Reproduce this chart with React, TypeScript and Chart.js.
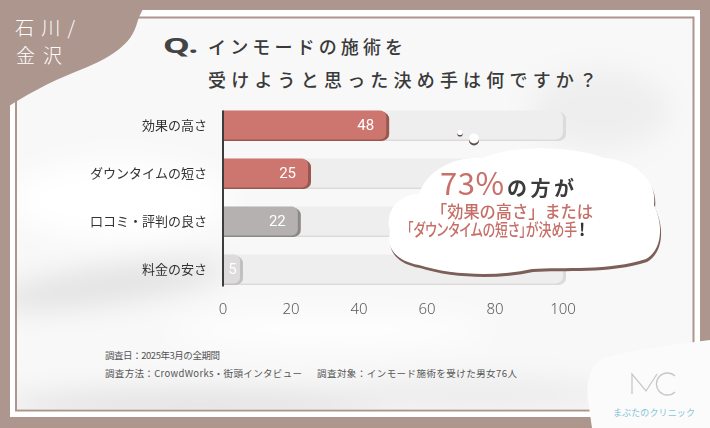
import React, { useEffect, useRef } from "react";
import { Chart, registerables } from "chart.js";

Chart.register(...registerables);

// ---- data ----
const categories = ["効果の高さ", "ダウンタイムの短さ", "口コミ・評判の良さ", "料金の安さ"];
const values = [48, 25, 22, 5];
const trackValues = [100, 100, 100, 100];
const xMin = 0;
const xMax = 100;
const xStep = 20;

const titleQ = "Q.";
const titleLine1 = "インモードの施術を";
const titleLine2 = "受けようと思った決め手は何ですか？";
const regionLine1 = "石川/";
const regionLine2 = "金沢";
const calloutPercent = "73%";
const calloutPercentTail = "の方が";
const calloutLine2 = "「効果の高さ」または";
const calloutLine3 = "「ダウンタイムの短さ」が決め手";
const calloutBang = "!";
const noteDate = "調査日：2025年3月の全期間";
const noteMethod = "調査方法：CrowdWorks・街頭インタビュー";
const noteTarget = "調査対象：インモード施術を受けた男女76人";
const logoText = "まぶたのクリニック";

// ---- styles ----
const JP = '"Noto Sans CJK JP", "Noto Sans", sans-serif';
const BROWN = "#ad968e";
const barColors = ["#cd7670", "#cd7670", "#b5b1b0", "#dddbdb"];
const barShadowColors = ["#98584f", "#98584f", "#8d8887", "#c3c0c0"];
const trackColor = "#efeeee";
const trackShadowColor = "#dcdada";

const decorPlugin = {
  id: "decor",
  beforeDatasetDraw(chart: any, args: any) {
    const ctx = chart.ctx;
    const meta = chart.getDatasetMeta(args.index);
    ctx.save();
    meta.data.forEach((el: any, i: number) => {
      const left = Math.min(el.base, el.x);
      const w = Math.abs(el.x - el.base);
      ctx.fillStyle = args.index === 1 ? trackShadowColor : barShadowColors[i];
      ctx.beginPath();
      ctx.roundRect(left, el.y - el.height / 2 + 1.5, w + 3, el.height, [0, 7, 7, 0]);
      ctx.fill();
    });
    ctx.restore();
  },
  afterDatasetsDraw(chart: any) {
    const ctx = chart.ctx;
    const meta = chart.getDatasetMeta(0);
    const x0 = chart.scales.x.getPixelForValue(xMin);
    const first = meta.data[0];
    const last = meta.data[meta.data.length - 1];
    ctx.save();
    ctx.strokeStyle = "#3d3d3d";
    ctx.lineWidth = 2;
    ctx.beginPath();
    ctx.moveTo(x0, first.y - first.height / 2);
    ctx.lineTo(x0, last.y + last.height / 2 + 3);
    ctx.stroke();
    ctx.fillStyle = "#ffffff";
    ctx.font = '15px Roboto, "Noto Sans", sans-serif';
    ctx.textBaseline = "middle";
    meta.data.forEach((el: any, i: number) => {
      const w = el.x - el.base;
      if (w < 30) {
        ctx.textAlign = "center";
        ctx.fillText(String(values[i]), el.base + w / 2 + 1, el.y + 1);
      } else {
        ctx.textAlign = "right";
        ctx.fillText(String(values[i]), el.x - 12, el.y + 1);
      }
    });
    ctx.restore();
  },
};

function BarChart() {
  const ref = useRef<HTMLCanvasElement | null>(null);
  useEffect(() => {
    if (!ref.current) return;
    const chart = new Chart(ref.current, {
      type: "bar",
      data: {
        labels: categories,
        datasets: [
          {
            data: values,
            backgroundColor: barColors,
            borderRadius: 6,
            borderSkipped: "start",
            grouped: false,
            categoryPercentage: 1,
            barPercentage: 0.6,
          },
          {
            data: trackValues,
            backgroundColor: trackColor,
            borderRadius: 7,
            borderSkipped: "start",
            grouped: false,
            categoryPercentage: 1,
            barPercentage: 0.6,
          },
        ],
      },
      options: {
        indexAxis: "y",
        responsive: false,
        animation: false,
        devicePixelRatio: window.devicePixelRatio || 1,
        layout: { padding: { top: 101, bottom: 101, left: 0, right: 147 } },
        plugins: { legend: { display: false }, tooltip: { enabled: false } },
        scales: {
          x: {
            min: xMin,
            max: xMax,
            ticks: {
              stepSize: xStep,
              padding: 8,
              color: "#5a5a5a",
              font: { size: 15, family: '"Noto Sans", Roboto, sans-serif', weight: "300" },
            },
            grid: { display: false, drawTicks: false },
            border: { display: false },
          },
          y: {
            grid: { display: false, drawTicks: false },
            border: { display: false },
            ticks: { padding: 16, color: "#333333", font: { size: 13, family: JP } },
            afterFit: (s: any) => {
              s.width = 223;
            },
          },
        },
      } as any,
      plugins: [decorPlugin],
    });
    return () => chart.destroy();
  }, []);
  return (
    <canvas
      ref={ref}
      width={710}
      height={428}
      style={{ position: "absolute", left: 0, top: 0, width: 710, height: 428 }}
    />
  );
}

const cloudPath =
  "M 390 232 C 384 212, 398 194, 419 194 C 427 170, 455 156, 483 158 C 513 144, 574 146, 604 158 C 634 160, 658 180, 654 205 C 664 226, 662 250, 646 259 C 610 271, 562 267, 532 269 C 496 277, 450 275, 419 265 C 396 261, 386 248, 390 232 Z";

export default function App() {
  return (
    <div
      style={{
        position: "fixed",
        left: 0,
        top: 0,
        width: 710,
        height: 428,
        background: BROWN,
        overflow: "hidden",
        fontFamily: JP,
      }}
    >
      <svg width={710} height={428} style={{ position: "absolute", left: 0, top: 0 }}>
        <defs>
          <filter id="blur" x="-50%" y="-50%" width="200%" height="200%">
            <feGaussianBlur stdDeviation="14" />
          </filter>
          <clipPath id="inner">
            <rect x={17} y={18.5} width={675.5} height={391} />
          </clipPath>
        </defs>
        <rect x={10} y={10} width={690} height={407} fill="#ffffff" />
        <rect x={16} y={17.5} width={677.5} height={393} fill="#f8f8f8" stroke={BROWN} strokeWidth={2} />
        <g clipPath="url(#inner)" filter="url(#blur)">
          <ellipse cx={110} cy={285} rx={120} ry={18} fill="#e2e2e2" transform="rotate(-8 110 285)" />
          <ellipse cx={200} cy={405} rx={200} ry={14} fill="#e0e0e0" />
          <ellipse cx={600} cy={110} rx={70} ry={40} fill="#eeeeee" />
          <ellipse cx={330} cy={330} rx={160} ry={14} fill="#ffffff" />
          <ellipse cx={120} cy={200} rx={110} ry={40} fill="#ffffff" />
          <ellipse cx={480} cy={395} rx={140} ry={16} fill="#ebebeb" />
        </g>
        {/* top-left region blob */}
        <path
          d="M0 0 H150 C144 6, 140 14, 138 20 C 134 35, 128 42, 118 50 C 105 60, 90 66, 75 72 C 50 82, 25 95, 0 112 Z"
          fill={BROWN}
        />
        <text x={15} y={35} fontSize={19} fontWeight={300} fill="#ffffff" textLength={60} lengthAdjust="spacing" fontFamily={JP}>
          {regionLine1}
        </text>
        <text x={16} y={63} fontSize={19} fontWeight={300} fill="#ffffff" textLength={46} lengthAdjust="spacing" fontFamily={JP}>
          {regionLine2}
        </text>
        {/* title */}
        <text x={163} y={53} fontSize={22} fontWeight={700} fill="#444444" fontFamily='"Noto Sans", sans-serif' textLength={35} lengthAdjust="spacingAndGlyphs">
          {titleQ}
        </text>
        <text x={208} y={54} fontSize={18} fontWeight={500} fill="#3a3a3a" fontFamily={JP} textLength={195} lengthAdjust="spacing">
          {titleLine1}
        </text>
        <text x={208} y={87} fontSize={18} fontWeight={500} fill="#3a3a3a" fontFamily={JP} textLength={389} lengthAdjust="spacing">
          {titleLine2}
        </text>
        {/* footnotes */}
        <text x={105} y={358.5} fontSize={9.5} fill="#555555" fontFamily={JP} textLength={115} lengthAdjust="spacing">
          {noteDate}
        </text>
        <text x={105} y={376.5} fontSize={9.5} fill="#555555" fontFamily={JP} textLength={197} lengthAdjust="spacing">
          {noteMethod}
        </text>
        <text x={317} y={376.5} fontSize={9.5} fill="#555555" fontFamily={JP} textLength={200} lengthAdjust="spacing">
          {noteTarget}
        </text>
        {/* logo blob */}
        <path d="M 710 340 C 680 344, 630 350, 605 358 C 590 364, 586 380, 588 400 L 592 428 H 710 Z" fill="#fbfbfb" />
        <path d="M632 394 V374 L646 391 L657 374" fill="none" stroke="#c8c8c8" strokeWidth={1.3} />
        <path d="M 675 376 A 11 11 0 1 0 675 392" fill="none" stroke="#c8c8c8" strokeWidth={1.3} />
        <text x={613} y={416} fontSize={9} fill="#86c6d8" fontFamily={JP} textLength={82} lengthAdjust="spacing">
          {logoText}
        </text>
      </svg>

      <BarChart />

      <svg width={710} height={428} style={{ position: "absolute", left: 0, top: 0 }}>
        {/* thought dots */}
        <circle cx={460} cy={134} r={2.6} fill="#5f4b46" />
        <circle cx={460} cy={132.5} r={2.6} fill="#ffffff" />
        <circle cx={474} cy={140.5} r={5} fill="#5f4b46" />
        <circle cx={474} cy={138.5} r={5} fill="#ffffff" />
        {/* cloud */}
        <path d={cloudPath} fill="#7b5f58" transform="translate(1 3)" />
        <path d={cloudPath} fill="#ffffff" />
        <text x={440} y={195} fontSize={31} fontWeight={400} fill="#c8706a" fontFamily={JP} textLength={64} lengthAdjust="spacing">
          {calloutPercent}
        </text>
        <text x={507} y={196} fontSize={20} fontWeight={700} fill="#3b3b3b" fontFamily={JP} textLength={67} lengthAdjust="spacing">
          {calloutPercentTail}
        </text>
        <text x={431} y={218} fontSize={17} fontWeight={500} fill="#c56f68" fontFamily={JP} textLength={162} lengthAdjust="spacingAndGlyphs">
          {calloutLine2}
        </text>
        <text x={407} y={236} fontSize={17} fontWeight={500} fill="#c56f68" fontFamily={JP} textLength={170} lengthAdjust="spacingAndGlyphs" style={{ fontFeatureSettings: '"palt"' }}>
          {calloutLine3}
        </text>
        <text x={579} y={236} fontSize={17} fontWeight={700} fill="#333333" fontFamily={JP}>
          {calloutBang}
        </text>
      </svg>
    </div>
  );
}
